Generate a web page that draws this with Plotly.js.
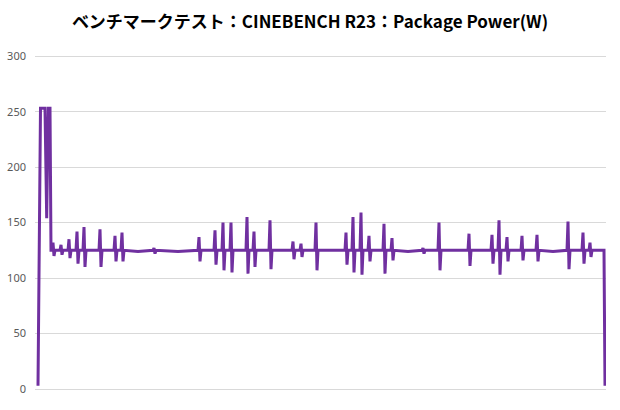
<!DOCTYPE html>
<html>
<head>
<meta charset="utf-8">
<script src="https://cdn.plot.ly/plotly-3.0.1.min.js"></script>
<style>html,body{margin:0;padding:0;background:#fff;}#chart{width:620px;height:410px;}</style>
</head>
<body>
<div id="chart"></div>
<script>
// Sample time (s) and package power (W)
const timeSec = [
  0, 2.5, 7, 8.7, 10.3, 12, 13,
  14, 15, 16, 17,   22, 23, 24, 25,   30, 31, 32, 33,   38, 39, 40, 41,
  45, 46, 47, 48,   61, 62, 63, 64,   76, 77, 78, 79,   83, 84, 85, 86,
  100, 115, 116, 117, 118, 140,
  160, 161, 162, 163,   176, 177, 178, 179,   184, 185, 186, 187,
  192, 193, 194, 195,   208, 209, 210, 211,   215, 216, 217, 218,
  231, 232, 233, 234,   254, 255, 256, 257,   262, 263, 264, 265,
  277, 278, 279, 280,   307, 308, 309, 310,   314, 315, 316, 317,
  322, 323, 324, 325,   330, 331, 332, 333,   345, 346, 347, 348,
  353, 354, 355, 356,   370, 384, 385, 386, 387,
  400, 401, 402, 403,   430, 431, 432, 433,   453, 454, 455, 456,
  460, 461, 462, 463,   468, 469, 470, 471,   483, 484, 485, 486,
  498, 499, 500, 501,   515, 529, 530, 531, 532,   544, 545, 546, 547,
  551, 552, 553, 554,   566, 567
];
const powerW = [
  3, 253, 253, 154, 253, 253, 125,
  125, 132, 120, 125,   125, 130, 121, 125,   125, 135, 118, 125,   125, 142, 113, 125,
  125, 146, 110, 125,   125, 144, 110, 125,   125, 138, 115, 125,   125, 141, 115, 125,
  124, 125, 127, 122, 125, 124,
  125, 137, 115, 125,   125, 143, 112, 125,   125, 150, 107, 125,
  125, 150, 105, 125,   125, 155, 104, 125,   125, 142, 110, 125,
  125, 152, 108, 125,   125, 133, 117, 125,   125, 131, 119, 125,
  125, 150, 107, 125,   125, 141, 112, 125,   125, 155, 105, 125,
  125, 159, 103, 125,   125, 138, 115, 125,   125, 149, 104, 125,
  125, 136, 116, 125,   124, 125, 127, 122, 125,
  125, 150, 107, 125,   125, 140, 111, 125,   125, 139, 113, 125,
  125, 152, 103, 125,   125, 137, 115, 125,   125, 138, 116, 125,
  125, 139, 115, 125,   124, 125, 151, 108, 125,   125, 141, 113, 125,
  125, 132, 119, 125,   125, 3
];
const yTicks = [0, 50, 100, 150, 200, 250, 300];

const trace = {
  x: timeSec,
  y: powerW,
  type: 'scatter',
  mode: 'lines',
  line: {color: '#7030A0', width: 3, shape: 'linear'},
  hoverinfo: 'skip'
};

const layout = {
  width: 620,
  height: 410,
  margin: {l: 35, r: 14, t: 54, b: 21, pad: 0},
  paper_bgcolor: '#ffffff',
  plot_bgcolor: '#ffffff',
  showlegend: false,
  title: {
    text: 'ベンチマークテスト：CINEBENCH R23：Package Power(W)',
    font: {family: '"Noto Sans CJK JP", "Noto Sans", sans-serif', size: 17, color: '#000000', weight: 'bold'},
    x: 0.5, xanchor: 'center', xref: 'container',
    y: 0.946, yanchor: 'middle', yref: 'container'
  },
  xaxis: {
    range: [-3, 568],
    showgrid: false,
    zeroline: false,
    showline: false,
    showticklabels: false,
    ticks: ''
  },
  yaxis: {
    range: [0, 302],
    tickvals: yTicks,
    ticktext: yTicks.map(String),
    showgrid: true,
    gridcolor: '#d9d9d9',
    gridwidth: 1,
    zeroline: true,
    zerolinecolor: '#d9d9d9',
    zerolinewidth: 1,
    showline: false,
    ticks: '',
    ticklabelstandoff: 8,
    tickfont: {family: '"Noto Sans", "DejaVu Sans", sans-serif', size: 11, color: '#595959'}
  }
};

Plotly.newPlot('chart', [trace], layout, {displayModeBar: false, staticPlot: true});
</script>
</body>
</html>
